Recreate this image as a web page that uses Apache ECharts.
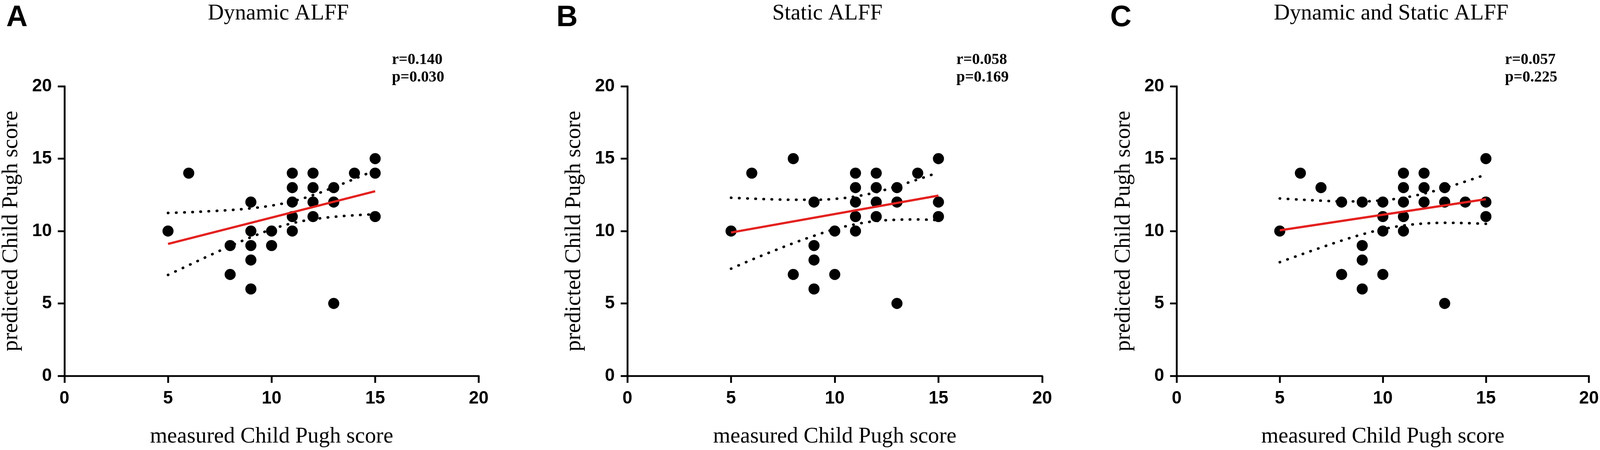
<!DOCTYPE html>
<html>
<head>
<meta charset="utf-8">
<script src="https://cdn.jsdelivr.net/npm/echarts@6/dist/echarts.min.js"></script>
<style>
  html, body { margin: 0; padding: 0; width: 100%; height: 100%; overflow: hidden; background: #fff; }
  #main { width: 100%; height: 100%; }
</style>
</head>
<body>
<div id="main"></div>
<script>
// 数据
var panelTitles = ['Dynamic ALFF', 'Static ALFF', 'Dynamic and Static ALFF'];
var panelLetters = ['A', 'B', 'C'];
var statR = ['r=0.140', 'r=0.058', 'r=0.057'];
var statP = ['p=0.030', 'p=0.169', 'p=0.225'];

var aMeasured  = [5, 6, 8, 8, 9, 9, 9, 9, 9, 10, 10, 11, 11, 11, 11, 11, 12, 12, 12, 12, 13, 13, 13, 14, 15, 15, 15];
var aPredicted = [10, 14, 9, 7, 12, 10, 9, 8, 6, 10, 9, 14, 13, 12, 11, 10, 14, 13, 12, 11, 13, 12, 5, 14, 15, 14, 11];

var bMeasured  = [5, 6, 8, 8, 9, 9, 9, 9, 10, 10, 11, 11, 11, 11, 11, 12, 12, 12, 12, 13, 13, 13, 14, 15, 15, 15];
var bPredicted = [10, 14, 15, 7, 12, 9, 8, 6, 10, 7, 14, 13, 12, 11, 10, 14, 13, 12, 11, 13, 12, 5, 14, 15, 12, 11];

var cMeasured  = [5, 6, 7, 8, 8, 9, 9, 9, 9, 10, 10, 10, 10, 11, 11, 11, 11, 11, 12, 12, 12, 13, 13, 13, 14, 15, 15, 15];
var cPredicted = [10, 14, 13, 12, 7, 12, 9, 8, 6, 12, 11, 10, 7, 14, 13, 12, 11, 10, 14, 13, 12, 13, 12, 5, 12, 15, 12, 11];

// 回归线
var fitX = [5, 15];
var aFit = [9.11, 12.75];
var bFit = [9.9, 12.45];
var cFit = [10.05, 12.2];

// 置信带
var bandX  = [5, 6, 7, 8, 9, 10, 11, 12, 13, 14, 15];
var aUpper = [11.25, 11.3, 11.37, 11.45, 11.57, 11.76, 12.05, 12.48, 13.02, 13.6, 14.2];
var aLower = [6.97, 7.64, 8.31, 8.96, 9.57, 10.12, 10.54, 10.81, 10.98, 11.09, 11.16];
var bUpper = [12.3, 12.24, 12.19, 12.16, 12.16, 12.22, 12.39, 12.68, 13.1, 13.56, 14.05];
var bLower = [7.4, 8.02, 8.6, 9.16, 9.67, 10.13, 10.47, 10.69, 10.78, 10.8, 10.75];
var cUpper = [12.25, 12.17, 12.1, 12.05, 12.05, 12.13, 12.3, 12.59, 12.97, 13.42, 13.9];
var cLower = [7.85, 8.36, 8.86, 9.34, 9.77, 10.13, 10.38, 10.52, 10.57, 10.55, 10.5];

var panels = [
    {x: aMeasured, y: aPredicted, fit: aFit, up: aUpper, low: aLower},
    {x: bMeasured, y: bPredicted, fit: bFit, up: bUpper, low: bLower},
    {x: cMeasured, y: cPredicted, fit: cFit, up: cUpper, low: cLower}
];

function zip(xs, ys) {
    return xs.map(function (v, i) { return [v, ys[i]]; });
}

var serif = '"Liberation Serif", "Times New Roman", serif';
var sans = '"Liberation Sans", Arial, sans-serif';

var myChart = echarts.init(document.getElementById('main'));

// layout measured on a 4328x1153 canvas, scaled to the real size
var sx = myChart.getWidth() / 4328;
var sy = myChart.getHeight() / 1153;
var s = Math.min(sx, sy);
function X(v) { return v * sx; }
function Y(v) { return v * sy; }
function S(v) { return v * s; }

var gridLeft = [173, 1697, 3183];
var gridTop = 221, gridW = 1122, gridH = 742;
var titleX = [753, 2238, 3763];
var letterX = [17, 1505, 3003];
var statX = [1060, 2587, 4071];

var grids = [], xAxes = [], yAxes = [], series = [], graphics = [];

panels.forEach(function (p, i) {
    grids.push({left: X(gridLeft[i]), top: Y(gridTop), width: X(gridW), height: Y(gridH)});
    xAxes.push({
        gridIndex: i, type: 'value', min: 0, max: 20, interval: 5,
        name: 'measured Child Pugh score', nameLocation: 'middle', nameGap: Y(128),
        nameTextStyle: {fontFamily: serif, fontSize: S(60), color: '#000'},
        axisLine: {show: true, onZero: false, lineStyle: {color: '#000', width: S(5)}},
        axisTick: {show: true, length: Y(18), lineStyle: {color: '#000', width: S(5)}},
        axisLabel: {margin: Y(36), fontFamily: sans, fontWeight: 'bold', fontSize: S(48), color: '#000'},
        splitLine: {show: false}
    });
    yAxes.push({
        gridIndex: i, type: 'value', min: 0, max: 20, interval: 5,
        name: 'predicted Child Pugh score', nameLocation: 'middle', nameGap: X(113), nameRotate: 90,
        nameTextStyle: {fontFamily: serif, fontSize: S(60), color: '#000'},
        axisLine: {show: true, lineStyle: {color: '#000', width: S(5)}},
        axisTick: {show: true, length: X(18), lineStyle: {color: '#000', width: S(5)}},
        axisLabel: {margin: X(34), fontFamily: sans, fontWeight: 'bold', fontSize: S(48), color: '#000'},
        splitLine: {show: false}
    });
    series.push({
        type: 'scatter', xAxisIndex: i, yAxisIndex: i,
        data: zip(p.x, p.y), symbolSize: S(30),
        itemStyle: {color: '#000', opacity: 1}, z: 2, silent: true
    });
    series.push({
        type: 'line', xAxisIndex: i, yAxisIndex: i,
        data: zip(fitX, p.fit), showSymbol: false,
        lineStyle: {color: '#e3211f', width: S(6)}, z: 4, silent: true
    });
    [p.up, p.low].forEach(function (band) {
        series.push({
            type: 'line', xAxisIndex: i, yAxisIndex: i,
            data: zip(bandX, band), showSymbol: false, smooth: 0.4,
            lineStyle: {color: '#000', width: S(7), type: [S(1), S(21)], cap: 'round'},
            z: 3, silent: true
        });
    });
    graphics.push({
        type: 'text', left: X(letterX[i]), top: Y(8),
        style: {text: panelLetters[i], font: 'bold ' + S(80) + 'px ' + sans, fill: '#000'}
    });
    graphics.push({
        type: 'text', x: X(titleX[i]), y: Y(35),
        style: {text: panelTitles[i], font: S(60) + 'px ' + serif, fill: '#000',
            align: 'center', verticalAlign: 'middle'}
    });
    graphics.push({
        type: 'text', x: X(statX[i]), y: Y(154),
        style: {text: statR[i], font: 'bold ' + S(42) + 'px ' + serif, fill: '#000', verticalAlign: 'middle'}
    });
    graphics.push({
        type: 'text', x: X(statX[i]), y: Y(199),
        style: {text: statP[i], font: 'bold ' + S(42) + 'px ' + serif, fill: '#000', verticalAlign: 'middle'}
    });
});

var option = {
    backgroundColor: '#fff',
    animation: false,
    grid: grids,
    xAxis: xAxes,
    yAxis: yAxes,
    series: series,
    graphic: graphics
};
myChart.setOption(option);
</script>
</body>
</html>
